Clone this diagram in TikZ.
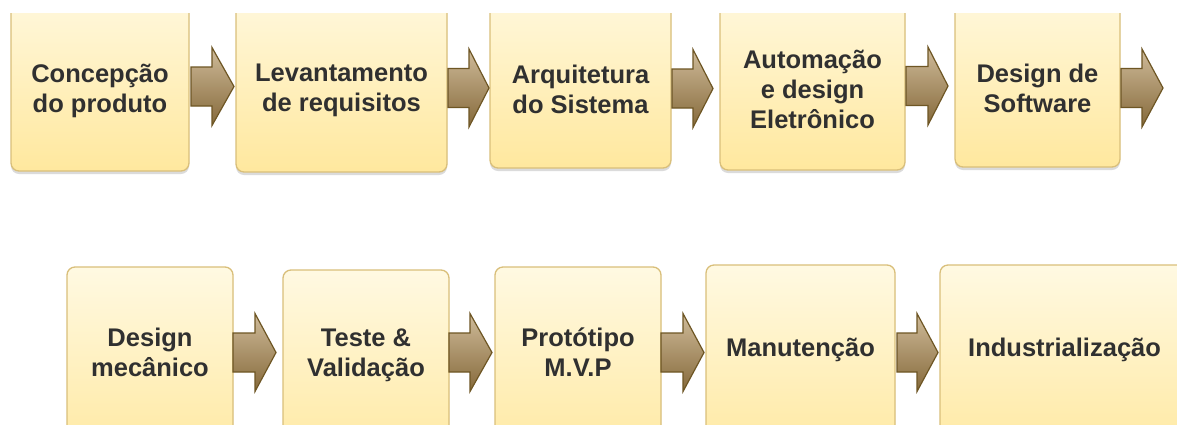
\documentclass[tikz,border=0pt]{standalone}
\usepackage{fontspec}
\setmainfont{Liberation Sans}
\usetikzlibrary{shadows}
\definecolor{boxtop}{HTML}{FFF9E2}
\definecolor{boxbot}{HTML}{FFE89E}
\definecolor{boxline}{HTML}{D9BF7A}
\definecolor{arrtop}{HTML}{CFBB9A}
\definecolor{arrbot}{HTML}{85693A}
\definecolor{arrline}{HTML}{6E5624}
\definecolor{txt}{HTML}{303030}
\tikzset{
  stepbox/.style={draw=boxline, line width=1.3pt, rounded corners=8pt,
    top color=boxtop, bottom color=boxbot, inner sep=0pt,
    drop shadow={shadow xshift=0pt, shadow yshift=-3pt, opacity=0.14, fill=black}},
  steptext/.style={text=txt, font=\fontsize{25.5}{30}\selectfont\bfseries, align=center, inner sep=0pt},
  blockarrow/.style={draw=arrline, line width=1.2pt, line join=miter, top color=arrtop, bottom color=arrbot}
}
% \barrow{x0}{xhead}{xtip}{ycenter}
\newcommand\barrow[4]{%
  \draw[blockarrow] (#1,#4-19.5) -- (#2,#4-19.5) -- (#2,#4-39) -- (#3,#4) -- (#2,#4+39) -- (#2,#4+19.5) -- (#1,#4+19.5) -- cycle;}
\begin{document}
\begin{tikzpicture}[x=1pt,y=-1pt]
\useasboundingbox (0,0) rectangle (1177,424);
\fill[white] (0,0) rectangle (1177,424);
\begin{scope}
\clip (0,13) rectangle (1177,424);
% top row boxes
\node[stepbox, minimum width=178pt, minimum height=190pt] (b1) at (100,76) {};
\node[stepbox, minimum width=211pt, minimum height=191pt] (b2) at (341.5,76.5) {};
\node[stepbox, minimum width=181pt, minimum height=187pt] (b3) at (580.5,74.5) {};
\node[stepbox, minimum width=185pt, minimum height=189pt] (b4) at (812.5,75.5) {};
\node[stepbox, minimum width=165pt, minimum height=186pt] (b5) at (1037.5,74) {};
% bottom row boxes
\node[stepbox, minimum width=166pt, minimum height=200pt] (b6) at (150,367) {};
\node[stepbox, minimum width=166pt, minimum height=200pt] (b7) at (366,370) {};
\node[stepbox, minimum width=166pt, minimum height=200pt] (b8) at (578,367) {};
\node[stepbox, minimum width=189pt, minimum height=200pt] (b9) at (800.5,365) {};
\node[stepbox, minimum width=270pt, minimum height=200pt] (b10) at (1075,365) {};
% texts
\node[steptext] (t1) at (b1.center |- 0,90.5) {Concepção\\do produto};
\node[steptext] (t2) at (b2.center |- 0,90.5) {Levantamento\\de requisitos};
\node[steptext] (t3) at (b3.center |- 0,89) {Arquitetura\\do Sistema};
\node[steptext] (t4) at (b4.center |- 0,89.5) {Automação\\e design\\Eletrônico};
\node[steptext] (t5) at (b5.center |- 0,88.5) {Design de\\Software};
\node[steptext] (t6) at (b6.center |- 0,352.5) {Design\\mecânico};
\node[steptext] (t7) at (b7.center |- 0,355.5) {Teste \&\\Validação};
\node[steptext] (t8) at (b8.center |- 0,352.5) {Protótipo\\M.V.P};
\node[steptext] (t9) at (b9.center |- 0,349.5) {Manutenção};
\node[steptext, anchor=west] (t10) at (968,349.5) {Industrialização};
% arrows
\barrow{191}{212}{234}{86.5}
\barrow{448}{469}{489}{88}
\barrow{672}{693}{713}{88.5}
\barrow{906}{928}{948}{86}
\barrow{1121}{1142}{1163}{88}
\barrow{233}{255}{276}{352.5}
\barrow{449}{470}{492}{352.5}
\barrow{661}{683}{704}{352.5}
\barrow{897}{917}{938}{352.5}
\end{scope}
\end{tikzpicture}
\end{document}
